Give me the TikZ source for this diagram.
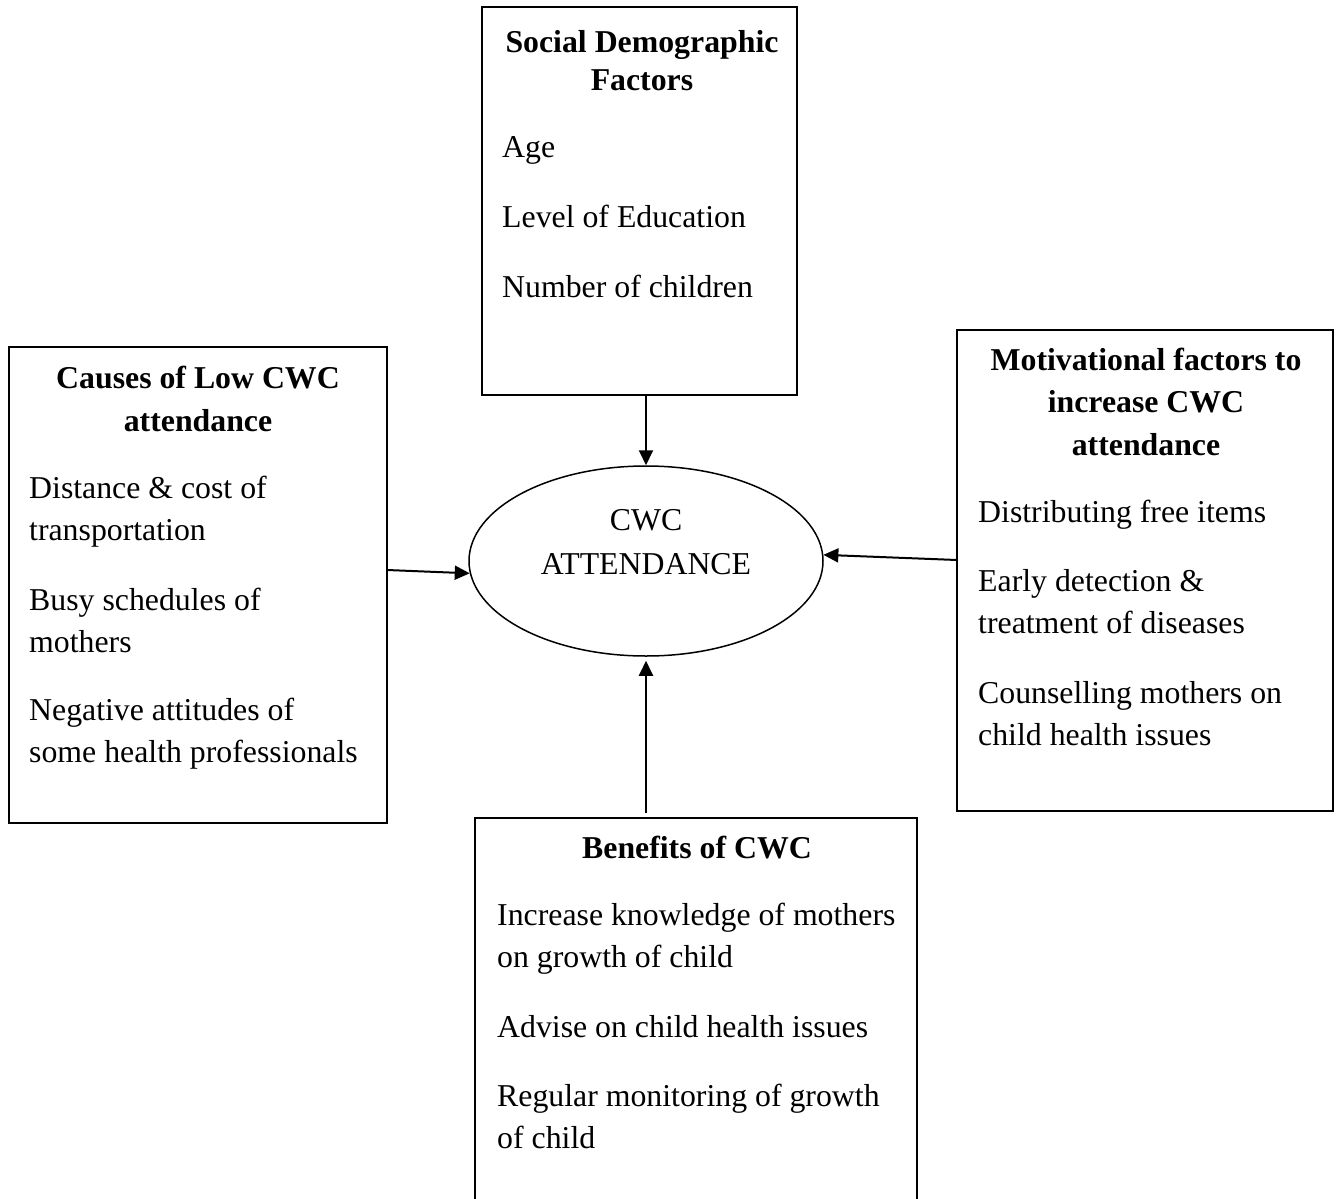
\documentclass[tikz,border=0pt]{standalone}
\usepackage{fontspec}
\setmainfont{Liberation Serif}
\usetikzlibrary{arrows.meta,calc,shapes.geometric}
\tikzset{
  boxnode/.style={draw, line width=2pt, inner sep=0pt, outer sep=0pt},
  txt/.style={inner sep=0pt, anchor=base west, align=left, font=\fontsize{31.8}{42}\selectfont},
  ttl/.style={inner sep=0pt, anchor=base, align=center, font=\fontsize{31.8}{42.5}\selectfont\bfseries},
  arr/.style={line width=2pt, -{Triangle[length=15pt,width=14pt]}},
}
\begin{document}
\begin{tikzpicture}[x=1pt,y=-1pt]
\useasboundingbox (0,0) rectangle (1336,1199);
\clip (0,0) rectangle (1336,1199);
% boxes
\node[boxnode, minimum width=315pt, minimum height=388pt] (sdf) at (639.5,201) {};
\node[boxnode, minimum width=378pt, minimum height=476pt] (low) at (198,585) {};
\node[boxnode, minimum width=376pt, minimum height=481pt] (mot) at (1145,570.5) {};
\node[boxnode, minimum width=442pt, minimum height=404pt] (ben) at (696,1020) {};
\node[draw, ellipse, line width=1.5pt, minimum width=354pt, minimum height=190pt, inner sep=0pt] (ell) at (646,561) {};
% top box text (anchors at the baseline of the last line)
\node[ttl, font=\fontsize{31.8}{38}\selectfont\bfseries] (sdft) at (642,91) {Social Demographic\\Factors};
\node[txt, font=\fontsize{31.8}{70}\selectfont] (sdfi) at (502,297) {Age\\Level of Education\\Number of children};
% left box text
\node[ttl, font=\fontsize{31.8}{43}\selectfont\bfseries] (lowt) at (198,431) {Causes of Low CWC\\attendance};
\node[txt] (low1) at (29,540) {Distance \& cost of\\transportation};
\node[txt] (low2) at (29,652) {Busy schedules of\\mothers};
\node[txt] (low3) at (29,762) {Negative attitudes of\\some health professionals};
% right box text
\node[ttl] (mott) at (1146,455) {Motivational factors to\\increase CWC\\attendance};
\node[txt] (mot1) at (978,522) {Distributing free items};
\node[txt] (mot2) at (978,633) {Early detection \&\\treatment of diseases};
\node[txt] (mot3) at (978,745) {Counselling mothers on\\child health issues};
% bottom box text
\node[ttl] (bent) at (697,858) {Benefits of CWC};
\node[txt] (ben1) at (497,967) {Increase knowledge of mothers\\on growth of child};
\node[txt] (ben2) at (497,1037) {Advise on child health issues};
\node[txt] (ben3) at (497,1148) {Regular monitoring of growth\\of child};
% ellipse text
\node[inner sep=0pt, anchor=base, align=center, font=\fontsize{31.8}{44}\selectfont] (ellt) at (646,574) {CWC\\ATTENDANCE};
% arrows
\draw[arr] (sdf.south -| ell.north) -- (ell.north);
\draw[arr] ([yshift=15pt]low.east) -- (ell.184);
\draw[arr] ([yshift=10.5pt]mot.west) -- (ell.2);
\draw[arr, shorten >=4pt] ($(ell.south |- ben.north)+(0,-5)$) -- (ell.south);
\end{tikzpicture}
\end{document}
